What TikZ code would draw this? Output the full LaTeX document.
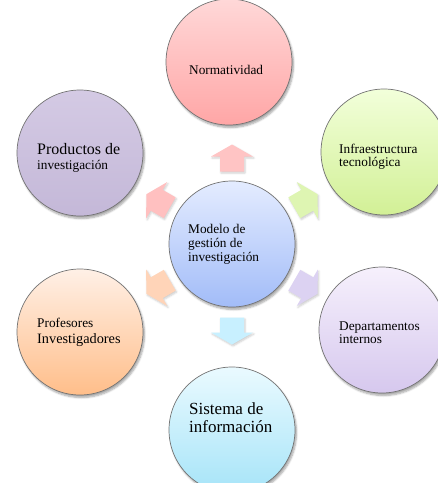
\documentclass[tikz,border=0pt]{standalone}
\usepackage{fontspec}
\setmainfont{Liberation Serif}
\usetikzlibrary{shadows.blur}
\definecolor{nTop}{RGB}{255,216,216}\definecolor{nBot}{RGB}{255,166,166}
\definecolor{iTop}{RGB}{242,255,218}\definecolor{iBot}{RGB}{210,240,150}
\definecolor{dTop}{RGB}{246,240,252}\definecolor{dBot}{RGB}{214,200,238}
\definecolor{sTop}{RGB}{234,250,255}\definecolor{sBot}{RGB}{166,228,248}
\definecolor{fTop}{RGB}{255,240,230}\definecolor{fBot}{RGB}{255,190,138}
\definecolor{pTop}{RGB}{212,202,228}\definecolor{pBot}{RGB}{196,184,216}
\definecolor{cTop}{RGB}{228,236,255}\definecolor{cBot}{RGB}{162,188,248}
\definecolor{aN}{RGB}{255,196,196}
\definecolor{aI}{RGB}{222,245,178}
\definecolor{aD}{RGB}{220,210,242}
\definecolor{aS}{RGB}{200,240,255}
\definecolor{aF}{RGB}{255,212,184}
\definecolor{aP}{RGB}{255,192,192}
\begin{document}
\begin{tikzpicture}[x=1pt,y=-1pt,
  bub/.style={circle, inner sep=0pt, minimum size=126pt, draw=black!55, line width=0.7pt,
    blur shadow={shadow xshift=1.5pt, shadow yshift=-2.5pt, shadow blur steps=6, shadow opacity=35}},
  lbl/.style={anchor=base west, inner sep=0pt, text=black, font=\fontsize{13.3}{14}\selectfont},
  big/.style={font=\fontsize{16}{17}\selectfont},
  blockarr/.pic={\fill[pic actions, blur shadow={shadow xshift=1pt, shadow yshift=-1.5pt, shadow blur steps=4, shadow opacity=20}]
     (-13.5,-12) -- (1.5,-12) -- (1.5,-21) -- (13.5,0) -- (1.5,21) -- (1.5,12) -- (-13.5,12) -- cycle;}
]
\useasboundingbox (0,0) rectangle (438,483);
\clip (0,0) rectangle (438,483);

% outward block arrows
\pic[rotate=90,  fill=aN] at (232,158) {blockarr};
\pic[rotate=30,  fill=aI] at (306,201) {blockarr};
\pic[rotate=-30, fill=aD] at (306,287) {blockarr};
\pic[rotate=-90, fill=aS] at (232,331) {blockarr};
\pic[rotate=210, fill=aF] at (158,287) {blockarr};
\pic[rotate=150, fill=aP] at (158,201) {blockarr};

% circles
\node[bub, top color=nTop, bottom color=nBot] (norm) at (229,62) {};
\node[bub, top color=iTop, bottom color=iBot] (infra) at (384,152) {};
\node[bub, top color=dTop, bottom color=dBot] (dept) at (382,330) {};
\node[bub, top color=sTop, bottom color=sBot] (sist) at (232,430) {};
\node[bub, top color=fTop, bottom color=fBot] (prof) at (80,332) {};
\node[bub, top color=pTop, bottom color=pBot] (prod) at (80,153) {};
\node[bub, top color=cTop, bottom color=cBot] (model) at (232,244) {};

% labels
\node[lbl] (t1) at (189,74) {Normatividad};
\node[lbl] (t2) at (339,153) {Infraestructura};
\node[lbl] (t3) at (339,166.5) {tecnológica};
\node[lbl] (t4) at (339,330) {Departamentos};
\node[lbl] (t5) at (339,343) {internos};
\node[lbl, font=\fontsize{17}{18}\selectfont] (t6) at (189,414.5) {Sistema de};
\node[lbl, font=\fontsize{17}{18}\selectfont] (t7) at (189,432.5) {información};
\node[lbl] (t8) at (37,327) {Profesores};
\node[lbl, font=\fontsize{14.3}{15}\selectfont] (t9) at (37,343) {Investigadores};
\node[lbl, big] (t10) at (37,154.5) {Productos de};
\node[lbl] (t11) at (37,169) {investigación};
\node[lbl] (t12) at (188,233) {Modelo de};
\node[lbl] (t13) at (188,247.5) {gestión de};
\node[lbl] (t14) at (188,261.5) {investigación};
\end{tikzpicture}
\end{document}
